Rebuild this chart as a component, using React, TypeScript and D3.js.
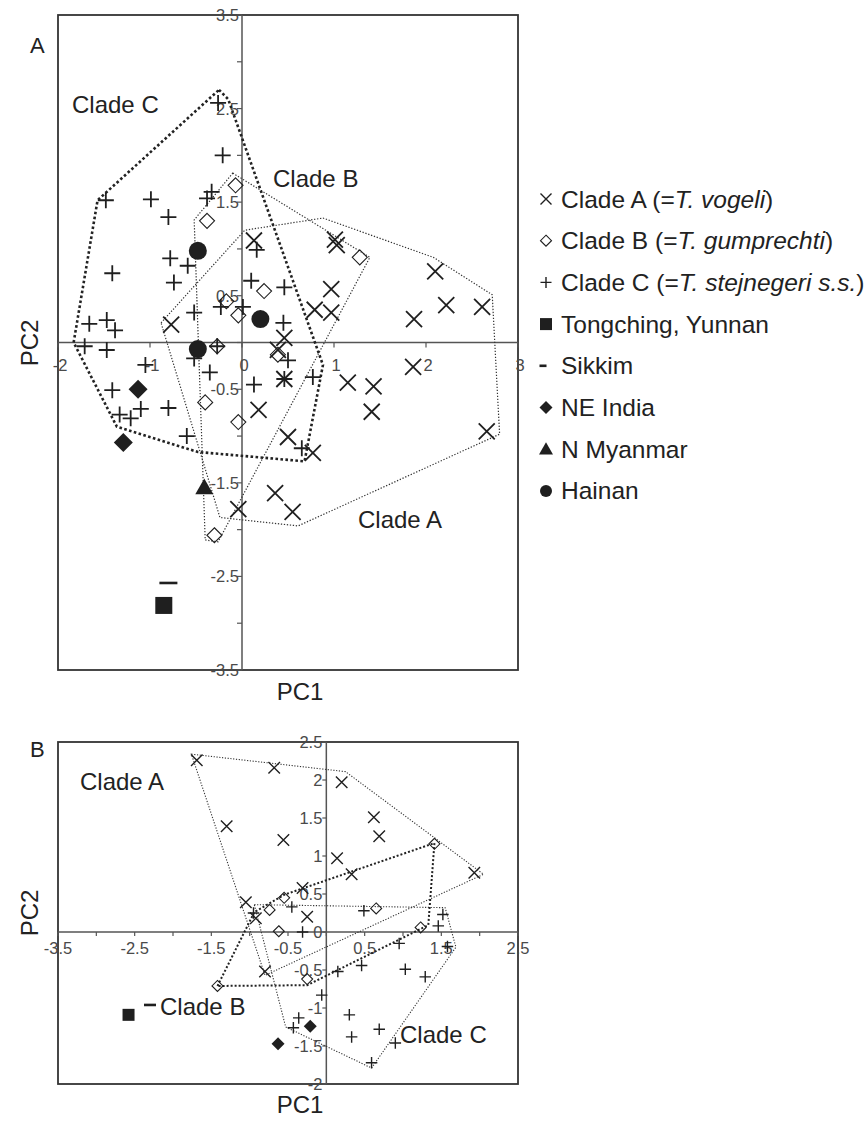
import * as d3 from "d3";
import React, { useRef, useEffect } from "react";

const width = 868;
const height = 1121;
const ink = "#1f1f1f";
const font = "'Liberation Sans', Arial, sans-serif";

// ---- panel A (upper) ----
const aCladeA = [
  [0.13, 1.09], [1.01, 1.1], [1.03, 1.04], [2.1, 0.76], [2.22, 0.4], [2.61, 0.38],
  [1.87, 0.25], [0.97, 0.57], [0.79, 0.35], [0.97, 0.32], [0.46, 0.05], [0.39, -0.08],
  [0.46, -0.39], [1.15, -0.43], [1.43, -0.47], [1.86, -0.26], [1.41, -0.74], [2.66, -0.95],
  [0.18, -0.72], [0.5, -1.01], [0.77, -1.18], [0.36, -1.61], [0.55, -1.81], [-0.04, -1.78],
  [-0.77, 0.19],
];
const aCladeB = [
  [-0.07, 1.68], [-0.38, 1.3], [-0.17, 0.44], [-0.04, 0.29], [0.24, 0.55], [-0.27, -0.04],
  [0.39, -0.13], [-0.4, -0.64], [-0.04, -0.85], [1.28, 0.91], [-0.3, -2.06],
];
const aCladeC = [
  [-0.26, 2.56], [-0.21, 2.0], [-1.48, 1.52], [-0.99, 1.53], [-0.8, 1.34], [-0.33, 1.61],
  [-0.38, 1.54], [-0.78, 0.9], [-0.59, 0.82], [-0.74, 0.64], [-1.41, 0.74], [-1.66, 0.2],
  [-1.47, 0.24], [-1.38, 0.13], [-1.71, -0.04], [-1.47, -0.08], [-1.05, -0.24], [-1.41, -0.51],
  [-1.33, -0.77], [-1.21, -0.81], [-1.1, -0.71], [-0.8, -0.7], [-0.6, -1.0], [-0.35, -0.32],
  [-0.52, 0.32], [-0.27, -0.04], [-0.23, 0.38], [0.01, 0.38], [0.1, 0.66], [0.46, 0.59],
  [0.45, 0.21], [0.5, -0.19], [0.46, -0.39], [0.13, -0.45], [0.65, -1.13], [0.16, 0.99],
  [0.77, -0.37], [-0.52, -0.17],
];
const aHainan = [[-0.48, 0.98], [0.2, 0.25], [-0.48, -0.07]];
const aIndia = [[-1.13, -0.5], [-1.29, -1.07]];
const aMyanmar = [[-0.41, -1.55]];
const aSikkim = [[-0.8, -2.57]];
const aYunnan = [[-0.85, -2.81]];

const aHullA = [[-0.88, 0.21], [0.03, 1.2], [0.88, 1.33], [2.08, 0.91], [2.72, 0.51], [2.8, -0.98], [0.61, -1.96], [-0.24, -1.87]];
const aHullB = [[-0.1, 1.81], [1.39, 0.91], [-0.26, -2.13], [-0.4, -2.11], [-0.52, 1.31]];
const aHullC = [[-0.25, 2.7], [-0.15, 2.6], [0.88, -0.24], [0.68, -1.27], [-0.48, -1.17], [-1.36, -0.9], [-1.83, 0.0], [-1.57, 1.52]];

const aXTicks = [-2, -1, 0, 1, 2, 3];
const aYTicks = [3.5, 3, 2.5, 2, 1.5, 1, 0.5, 0, -0.5, -1, -1.5, -2, -2.5, -3, -3.5];
const aYLabels = [3.5, 2.5, 1.5, 0.5, -0.5, -1.5, -2.5, -3.5];

// ---- panel B (lower) ----
const bCladeA = [
  [-1.69, 2.26], [-0.68, 2.16], [0.2, 1.97], [0.62, 1.51], [0.69, 1.26], [-1.3, 1.39],
  [-0.56, 1.21], [0.14, 0.97], [0.33, 0.76], [1.93, 0.78], [-0.31, 0.58], [-1.05, 0.39],
  [-0.25, 0.2], [-0.92, 0.18], [-0.8, -0.52],
];
const bCladeB = [
  [-0.55, 0.45], [-0.74, 0.29], [0.65, 0.31], [1.41, 1.16], [1.23, 0.06], [-0.62, 0.01],
  [-0.25, -0.62], [-1.42, -0.71],
];
const bCladeC = [
  [-0.45, 0.33], [-0.95, 0.25], [0.49, 0.28], [1.52, 0.23], [1.46, 0.08], [-0.31, 0.0],
  [0.95, -0.15], [1.58, -0.19], [0.46, -0.44], [0.15, -0.52], [1.03, -0.49], [1.29, -0.59],
  [-0.06, -0.83], [0.3, -1.09], [-0.36, -1.13], [-0.43, -1.26], [0.69, -1.28], [0.33, -1.38],
  [0.9, -1.46], [0.59, -1.72],
];
const bIndia = [[-0.21, -1.24], [-0.63, -1.47]];
const bSikkim = [[-2.3, -0.96]];
const bYunnan = [[-2.58, -1.09]];

const bHullA = [[-1.76, 2.34], [0.25, 2.11], [2.05, 0.76], [-0.8, -0.57]];
const bHullB = [[-1.42, -0.71], [-0.94, 0.26], [-0.55, 0.49], [1.41, 1.17], [1.33, 0.09], [-0.25, -0.7]];
const bHullC = [[-0.94, 0.36], [1.55, 0.32], [1.69, -0.2], [0.59, -1.79], [-0.53, -1.25]];

const bXTicks = [-3.5, -3, -2.5, -2, -1.5, -1, -0.5, 0, 0.5, 1, 1.5, 2, 2.5];
const bXLabels = [-3.5, -2.5, -1.5, -0.5, 0.5, 1.5, 2.5];
const bYTicks = [2.5, 2, 1.5, 1, 0.5, 0, -0.5, -1, -1.5, -2];

const legendItems = [
  { mark: "x", pre: "Clade A (=", it: "T. vogeli", post: ")" },
  { mark: "diamond", pre: "Clade B (=", it: "T. gumprechti", post: ")" },
  { mark: "plus", pre: "Clade C (=", it: "T. stejnegeri s.s.", post: ")" },
  { mark: "square", pre: "Tongching, Yunnan", it: "", post: "" },
  { mark: "dash", pre: "Sikkim", it: "", post: "" },
  { mark: "fdiamond", pre: "NE India", it: "", post: "" },
  { mark: "triangle", pre: "N Myanmar", it: "", post: "" },
  { mark: "circle", pre: "Hainan", it: "", post: "" },
];

// draws one marker centred on (x, y); s = nominal size
function marker(g, type, x, y, s) {
  const h = s / 2;
  if (type === "x") {
    g.append("path")
      .attr("d", `M${x - h},${y - h}L${x + h},${y + h}M${x - h},${y + h}L${x + h},${y - h}`)
      .attr("stroke", ink).attr("stroke-width", s > 12 ? 1.8 : 1.4).attr("fill", "none");
  } else if (type === "plus") {
    g.append("path")
      .attr("d", `M${x - h},${y}L${x + h},${y}M${x},${y - h}L${x},${y + h}`)
      .attr("stroke", ink).attr("stroke-width", s > 12 ? 1.8 : 1.4).attr("fill", "none");
  } else if (type === "diamond") {
    g.append("path")
      .attr("d", `M${x},${y - h}L${x + h},${y}L${x},${y + h}L${x - h},${y}Z`)
      .attr("stroke", ink).attr("stroke-width", 1.1).attr("fill", "none");
  } else if (type === "fdiamond") {
    g.append("path")
      .attr("d", `M${x},${y - h}L${x + h},${y}L${x},${y + h}L${x - h},${y}Z`)
      .attr("fill", ink);
  } else if (type === "square") {
    g.append("rect").attr("x", x - h).attr("y", y - h).attr("width", s).attr("height", s).attr("fill", ink);
  } else if (type === "circle") {
    g.append("circle").attr("cx", x).attr("cy", y).attr("r", h).attr("fill", ink);
  } else if (type === "triangle") {
    g.append("path")
      .attr("d", `M${x},${y - h}L${x + h},${y + h * 0.75}L${x - h},${y + h * 0.75}Z`)
      .attr("fill", ink);
  } else if (type === "dash") {
    g.append("rect").attr("x", x - h).attr("y", y - 1.3).attr("width", s).attr("height", 2.6).attr("fill", ink);
  }
}

function text(g, x, y, str, size, anchor = "start") {
  return g.append("text")
    .attr("x", x).attr("y", y)
    .attr("font-family", font).attr("font-size", size)
    .attr("fill", "#222").attr("text-anchor", anchor)
    .text(str);
}

const App = () => {
  const ref = useRef(null);

  useEffect(() => {
    const svg = d3.select(ref.current);
    svg.selectAll("*").remove();
    svg.append("rect").attr("width", width).attr("height", height).attr("fill", "#fff");

    const hullLine = (xs, ys) => d3.line().x((d) => xs(d[0])).y((d) => ys(d[1])).curve(d3.curveLinearClosed);

    // ================= panel A =================
    const xA = d3.scaleLinear().domain([-2, 3]).range([58, 518]);
    const yA = d3.scaleLinear().domain([-3.5, 3.5]).range([670, 15]);
    const gA = svg.append("g");

    gA.append("rect").attr("x", 58).attr("y", 15).attr("width", 460).attr("height", 655)
      .attr("fill", "none").attr("stroke", "#333").attr("stroke-width", 1.8);
    gA.append("line").attr("x1", xA(0)).attr("x2", xA(0)).attr("y1", 15).attr("y2", 670).attr("stroke", "#555").attr("stroke-width", 1.5);
    gA.append("line").attr("x1", 58).attr("x2", 518).attr("y1", yA(0)).attr("y2", yA(0)).attr("stroke", "#555").attr("stroke-width", 1.5);

    aYTicks.forEach((t) => {
      gA.append("line").attr("x1", xA(0) - 5).attr("x2", xA(0)).attr("y1", yA(t)).attr("y2", yA(t)).attr("stroke", "#555").attr("stroke-width", 1.2);
    });
    aYLabels.forEach((t) => {
      text(gA, xA(0) - 3, yA(t) + 6, String(t), 16.5, "end").attr("fill", "#4a4a4a");
    });
    aXTicks.forEach((t) => {
      gA.append("line").attr("x1", xA(t)).attr("x2", xA(t)).attr("y1", yA(0)).attr("y2", yA(0) + 5).attr("stroke", "#555").attr("stroke-width", 1.2);
      text(gA, xA(t) + 2, yA(0) + 28, String(t), 16.5, "middle").attr("fill", "#4a4a4a");
    });

    gA.append("path").attr("d", hullLine(xA, yA)(aHullA)).attr("fill", "none")
      .attr("stroke", "#333").attr("stroke-width", 1.2).attr("stroke-dasharray", "1.3 1.7");
    gA.append("path").attr("d", hullLine(xA, yA)(aHullB)).attr("fill", "none")
      .attr("stroke", "#333").attr("stroke-width", 1.2).attr("stroke-dasharray", "1.3 1.7");
    gA.append("path").attr("d", hullLine(xA, yA)(aHullC)).attr("fill", "none")
      .attr("stroke", "#222").attr("stroke-width", 2.6).attr("stroke-dasharray", "2.6 2.4");

    aCladeA.forEach((d) => marker(gA, "x", xA(d[0]), yA(d[1]), 16));
    aCladeB.forEach((d) => marker(gA, "diamond", xA(d[0]), yA(d[1]), 15));
    aCladeC.forEach((d) => marker(gA, "plus", xA(d[0]), yA(d[1]), 16));
    aHainan.forEach((d) => marker(gA, "circle", xA(d[0]), yA(d[1]), 18));
    aIndia.forEach((d) => marker(gA, "fdiamond", xA(d[0]), yA(d[1]), 19));
    aMyanmar.forEach((d) => marker(gA, "triangle", xA(d[0]), yA(d[1]), 18));
    aSikkim.forEach((d) => marker(gA, "dash", xA(d[0]), yA(d[1]), 18));
    aYunnan.forEach((d) => marker(gA, "square", xA(d[0]), yA(d[1]), 17));

    text(gA, 30, 53, "A", 22);
    text(gA, 72, 113, "Clade C", 24);
    text(gA, 273, 187, "Clade B", 24);
    text(gA, 358, 528, "Clade A", 24);
    text(gA, 300, 700, "PC1", 24, "middle");
    text(gA, 0, 0, "PC2", 24, "middle").attr("transform", "translate(38,343) rotate(-90)");

    // legend
    const gL = svg.append("g");
    legendItems.forEach((d, i) => {
      const cy = 199 + i * 41.7;
      const size = { x: 11, diamond: 11, plus: 11, square: 12, dash: 7, fdiamond: 13, triangle: 14, circle: 12 }[d.mark];
      marker(gL, d.mark, d.mark === "dash" ? 543 : 546, cy, size);
      const t = text(gL, 561, cy + 8.5, "", 24.5);
      t.append("tspan").text(d.pre);
      if (d.it) {
        t.append("tspan").attr("font-style", "italic").text(d.it);
        t.append("tspan").text(d.post);
      }
    });

    // ================= panel B =================
    const xB = d3.scaleLinear().domain([-3.5, 2.5]).range([58, 518]);
    const yB = d3.scaleLinear().domain([-2, 2.5]).range([1084, 742]);
    const gB = svg.append("g");

    gB.append("rect").attr("x", 58).attr("y", 742).attr("width", 460).attr("height", 342)
      .attr("fill", "none").attr("stroke", "#333").attr("stroke-width", 1.8);
    gB.append("line").attr("x1", xB(0)).attr("x2", xB(0)).attr("y1", 742).attr("y2", 1084).attr("stroke", "#555").attr("stroke-width", 1.5);
    gB.append("line").attr("x1", 58).attr("x2", 518).attr("y1", yB(0)).attr("y2", yB(0)).attr("stroke", "#555").attr("stroke-width", 1.5);

    bXTicks.forEach((t) => {
      gB.append("line").attr("x1", xB(t)).attr("x2", xB(t)).attr("y1", yB(0)).attr("y2", yB(0) + 4).attr("stroke", "#555").attr("stroke-width", 1.2);
    });
    bXLabels.forEach((t) => {
      text(gB, xB(t), yB(0) + 22, String(t), 16.5, "middle").attr("fill", "#4a4a4a");
    });
    bYTicks.forEach((t) => {
      gB.append("line").attr("x1", xB(0) - 4).attr("x2", xB(0)).attr("y1", yB(t)).attr("y2", yB(t)).attr("stroke", "#555").attr("stroke-width", 1.2);
      text(gB, xB(0) - 4, yB(t) + 6, String(t), 16.5, "end").attr("fill", "#4a4a4a");
    });

    gB.append("path").attr("d", hullLine(xB, yB)(bHullA)).attr("fill", "none")
      .attr("stroke", "#333").attr("stroke-width", 1.1).attr("stroke-dasharray", "1.2 1.6");
    gB.append("path").attr("d", hullLine(xB, yB)(bHullB)).attr("fill", "none")
      .attr("stroke", "#222").attr("stroke-width", 2).attr("stroke-dasharray", "2 2");
    gB.append("path").attr("d", hullLine(xB, yB)(bHullC)).attr("fill", "none")
      .attr("stroke", "#333").attr("stroke-width", 1.1).attr("stroke-dasharray", "1.2 1.6");

    bCladeA.forEach((d) => marker(gB, "x", xB(d[0]), yB(d[1]), 11.5));
    bCladeB.forEach((d) => marker(gB, "diamond", xB(d[0]), yB(d[1]), 11));
    bCladeC.forEach((d) => marker(gB, "plus", xB(d[0]), yB(d[1]), 11.5));
    bIndia.forEach((d) => marker(gB, "fdiamond", xB(d[0]), yB(d[1]), 13));
    bSikkim.forEach((d) => marker(gB, "dash", xB(d[0]), yB(d[1]), 12));
    bYunnan.forEach((d) => marker(gB, "square", xB(d[0]), yB(d[1]), 12));

    text(gB, 30, 757, "B", 22);
    text(gB, 80, 790, "Clade A", 24);
    text(gB, 160, 1015, "Clade B", 24);
    text(gB, 400, 1043, "Clade C", 24);
    text(gB, 300, 1113, "PC1", 24, "middle");
    text(gB, 0, 0, "PC2", 24, "middle").attr("transform", "translate(38,913) rotate(-90)");
  }, []);

  return <svg ref={ref} width={width} height={height} style={{ position: "absolute", left: 0, top: 0 }} />;
};

export default App;
